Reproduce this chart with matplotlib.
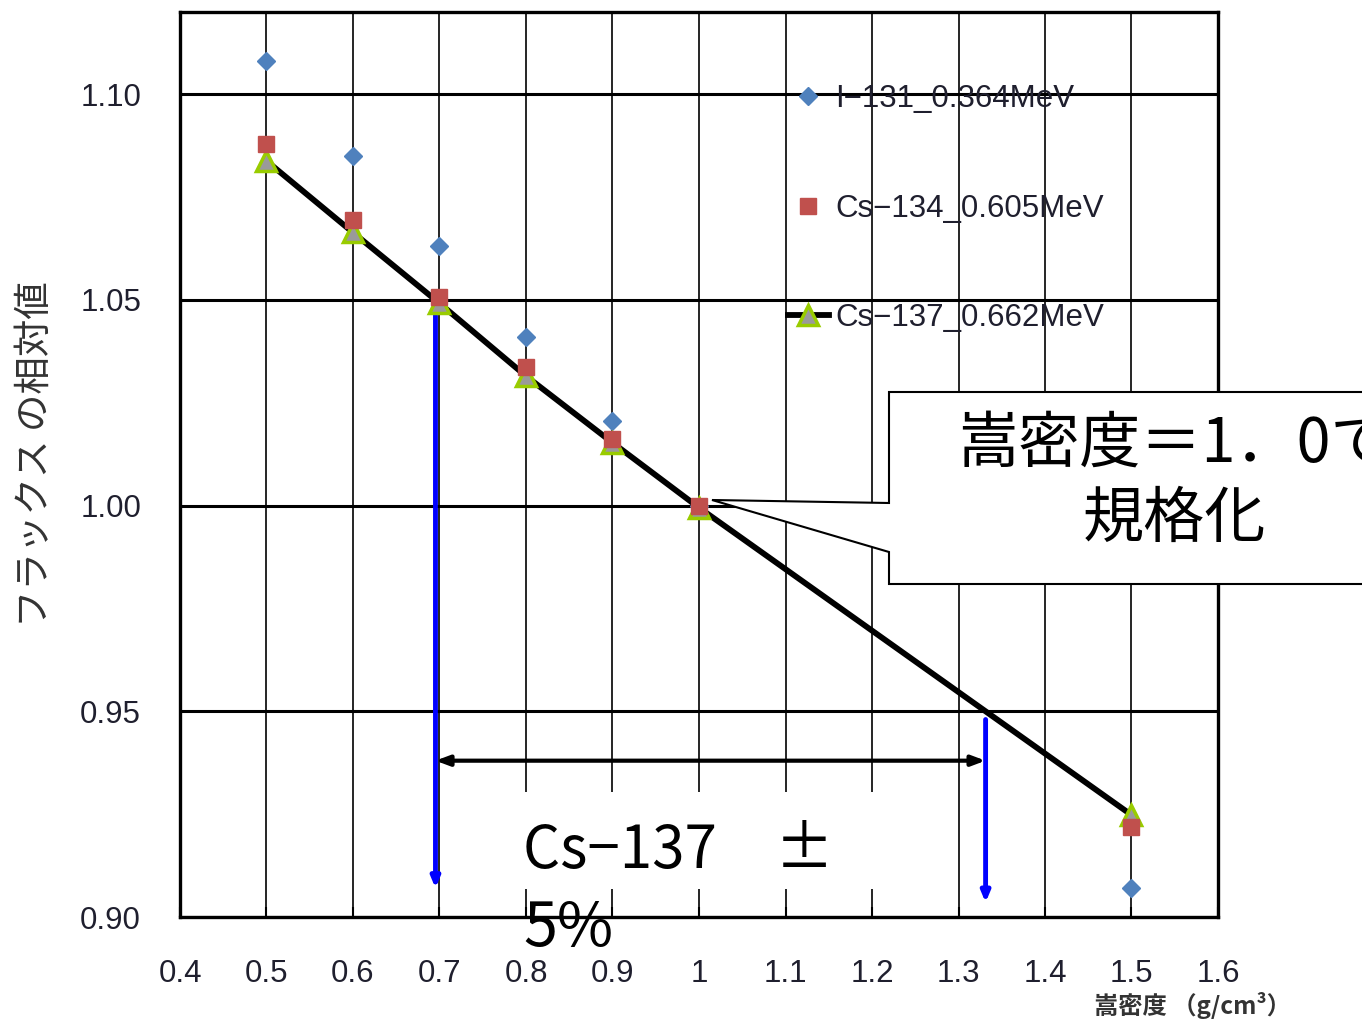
import numpy as np
import matplotlib
matplotlib.use('Agg')
import matplotlib.pyplot as plt
import matplotlib.font_manager as fm
from matplotlib.patches import Polygon, Rectangle

# data
density = [0.5, 0.6, 0.7, 0.8, 0.9, 1.0, 1.5]
i131 = [1.108, 1.085, 1.063, 1.041, 1.0205, 1.000, 0.907]
cs134 = [1.088, 1.0695, 1.0507, 1.0337, 1.0163, 1.000, 0.922]
cs137 = [1.0838, 1.0664, 1.0492, 1.0315, 1.0153, 0.9995, 0.9248]
series_names = ['I\u2212131_0.364MeV', 'Cs\u2212134_0.605MeV', 'Cs\u2212137_0.662MeV']

x_ticks = [0.4, 0.5, 0.6, 0.7, 0.8, 0.9, 1.0, 1.1, 1.2, 1.3, 1.4, 1.5, 1.6]
y_ticks = [0.90, 0.95, 1.00, 1.05, 1.10]

# +/-5% band for Cs-137
band_top, band_bottom = 1.05, 0.95
band_arrow_ends = [0.907, 0.9035]
span_level = 0.938

names = {f.name for f in fm.fontManager.ttflist}
num_font = 'Liberation Sans' if 'Liberation Sans' in names else 'DejaVu Sans'
jp = ['Noto Sans CJK JP', 'DejaVu Sans']
plt.rcParams['font.family'] = [num_font, 'Noto Sans CJK JP', 'DejaVu Sans']

W, H = 1362, 1021
def fx(px):
    return px / W
def fy(py):
    return 1 - py / H

fig = plt.figure(figsize=(W / 100, H / 100), dpi=100)
ax = fig.add_axes([fx(180), fy(917), fx(1218) - fx(180), fy(12) - fy(917)])

ax.set_xlim(0.4, 1.6)
ax.set_ylim(0.90, 1.12)
ax.set_xticks(x_ticks)
ax.set_xticklabels(['%g' % v for v in x_ticks])
ax.set_yticks(y_ticks)
ax.set_yticklabels(['%.2f' % v for v in y_ticks])
ax.set_axisbelow(True)
ax.grid(axis='x', color='black', lw=1.2)
ax.grid(axis='y', color='black', lw=2.2)
ax.tick_params(axis='x', direction='in', length=7, width=1.5, pad=30,
               labelsize=22.5, labelcolor='#1f1f2e')
ax.tick_params(axis='y', direction='in', length=0, pad=28,
               labelsize=22.5, labelcolor='#1f1f2e')
for sp in ax.spines.values():
    sp.set_linewidth(2.4)

# series
h1, = ax.plot(density, i131, ls='none', marker='D', ms=9, color='#4F81BD',
              zorder=3, label=series_names[0])
h3, = ax.plot(density, cs137, color='black', lw=4.2, marker='^', ms=14,
              mfc='#9a9a9a', mec='#99CC00', mew=2.5, zorder=4, label=series_names[2])
h2, = ax.plot(density, cs134, ls='none', marker='s', ms=12, color='#C0504D',
              zorder=5, label=series_names[1])

leg = ax.legend([h1, h2, h3], series_names, loc='upper left',
                bbox_to_anchor=(fx(788), fy(84)), bbox_transform=fig.transFigure,
                frameon=False, fontsize=22.5, labelspacing=2.55, handlelength=1.3,
                handletextpad=0.2, borderpad=0, borderaxespad=0)
for t in leg.get_texts():
    t.set_color('#1f1f2e')

# blue arrows marking where Cs-137 leaves the +/-5% band
xs = [np.interp(band_top, cs137[::-1], density[::-1]),
      np.interp(band_bottom, cs137[::-1], density[::-1])]
for xv, y0, y1 in zip(xs, [band_top, band_bottom], band_arrow_ends):
    ax.annotate('', xy=(xv, y1), xytext=(xv, y0 - 0.002),
                arrowprops=dict(arrowstyle='-|>,head_width=0.25,head_length=0.6',
                                color='#0000FF', lw=3.5, shrinkA=0, shrinkB=0),
                zorder=2)
ax.annotate('', xy=(xs[0], span_level), xytext=(xs[1], span_level),
            arrowprops=dict(arrowstyle='<|-|>,head_width=0.3,head_length=0.8',
                            color='black', lw=3, shrinkA=0, shrinkB=0),
            zorder=3)

# white text box for the band label
ax.add_patch(Rectangle((0.75, 0.9068), 0.50, 0.0236, facecolor='white',
                       edgecolor='none', zorder=1))
ax.text(0.797, 0.9118, 'Cs\u2212137\u3000\u00b1', fontsize=42, family=jp,
        color='black', va='baseline', ha='left', zorder=6, clip_on=False)
ax.text(0.797, 0.8930, '5%', fontsize=44, family=jp,
        color='black', va='baseline', ha='left', zorder=6, clip_on=False)

# callout box (runs off the right edge, as in the original slide)
pts = [(889, 392), (1420, 392), (1420, 584), (889, 584), (889, 552),
       (712, 500), (889, 503)]
fig.add_artist(Polygon([(fx(px), fy(py)) for px, py in pts], closed=True,
                       transform=fig.transFigure, facecolor='white',
                       edgecolor='black', lw=1.5, zorder=5))
fig.text(fx(1174), fy(482), '嵩密度＝1．0で\n規格化', fontsize=44, family=jp,
         ha='center', va='center', multialignment='center', linespacing=1.25,
         color='black', zorder=6)

# axis titles
fig.text(fx(35), fy(454), 'フラックス の相対値', rotation=90, fontsize=27,
         family=jp, color='#333333', ha='center', va='center')
fig.text(fx(1192), fy(1005), '嵩密度 （g/cm³）', fontsize=17.5, family=jp,
         fontweight='bold', color='#333333', ha='center', va='center')

fig.savefig('out.png', dpi=100)
